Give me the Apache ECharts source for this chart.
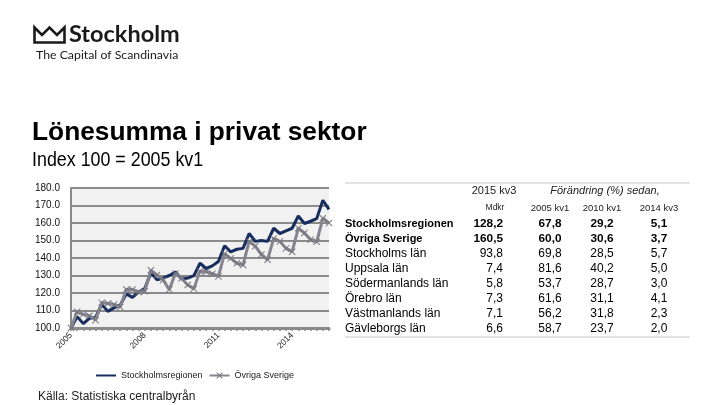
<!DOCTYPE html>
<html>
<head>
<meta charset="utf-8">
<script src="https://cdn.jsdelivr.net/npm/echarts@6/dist/echarts.min.js"></script>
<style>
  html, body { margin: 0; padding: 0; background: #fff; }
  #chart { width: 720px; height: 405px; }
</style>
</head>
<body>
<div id="chart"></div>
<script>
// kvartal 2005 kv1 .. 2015 kv3
const quarters = [];
for (let y = 2005; y <= 2015; y++) {
  for (let q = 1; q <= 4; q++) {
    if (y === 2015 && q > 3) break;
    quarters.push(y + ' kv' + q);
  }
}
const yearLabels = ['2005', '2008', '2011', '2014'];

const stockholmsregionen = [100, 106.5, 102.5, 105.5, 106, 113.5, 109.5, 111.5, 113, 119.5, 117.5, 120.5,
  122.5, 131.5, 127.5, 128.5, 130, 132, 128, 128.5, 129.9, 137, 134, 135.5, 138, 147, 143.5, 145,
  145.5, 154, 149.5, 150, 149.5, 157, 154, 155.5, 157, 164, 159.7, 161, 162.5, 173, 167.8];
const ovrigaSverige = [100, 109.3, 107.8, 107, 104.5, 114.5, 114, 113.5, 112, 122, 122, 120.5,
  121, 133, 130.3, 127.5, 122, 131.2, 128.4, 124.6, 122.5, 132.5, 132.2, 131, 129.5, 142.5, 139.8, 137,
  136, 149.5, 146.7, 142, 139, 151.2, 149.5, 145.5, 143.6, 157, 154.3, 150.5, 149.3, 162.7, 160.0];

// tabell
const tableNames = ['Stockholmsregionen', 'Övriga Sverige', 'Stockholms län', 'Uppsala län',
  'Södermanlands län', 'Örebro län', 'Västmanlands län', 'Gävleborgs län'];
const mdkr2015kv3 = ['128,2', '160,5', '93,8', '7,4', '5,8', '7,3', '7,1', '6,6'];
const chg2005kv1 = ['67,8', '60,0', '69,8', '81,6', '53,7', '61,6', '56,2', '58,7'];
const chg2010kv1 = ['29,2', '30,6', '28,5', '40,2', '28,7', '31,1', '31,8', '23,7'];
const chg2014kv3 = ['5,1', '3,7', '5,7', '5,0', '3,0', '4,1', '2,3', '2,0'];
const colHeads = ['2005 kv1', '2010 kv1', '2014 kv3'];

const NAVY = '#172d5e';
const GREY = '#85848f';
const FONT = "'Liberation Sans', Arial, sans-serif";
const crossPath = 'path://M0,1 L1,0 L5,4 L9,0 L10,1 L6,5 L10,9 L9,10 L5,6 L1,10 L0,9 L4,5 Z';

const graphics = [
  { // kronan
    type: 'polygon',
    shape: { points: [[34.5, 27.5], [42, 35], [49.5, 27.5], [57, 35], [64.5, 27.5], [64.5, 42.5], [34.5, 42.5]] },
    style: { fill: 'none', stroke: '#1a1a1a', lineWidth: 2.6, lineJoin: 'miter' }
  },
  { type: 'text', style: { x: 69, y: 34, text: 'Stockholm', font: "bold 23.5px Lato, sans-serif", fill: '#1a1a1a', verticalAlign: 'middle' } },
  { type: 'text', style: { x: 36, y: 55, text: 'The Capital of Scandinavia', font: "12.3px Lato, sans-serif", fill: '#1a1a1a', verticalAlign: 'middle' } },
  { type: 'text', style: { x: 32, y: 133, text: 'Lönesumma i privat sektor', font: 'bold 26.3px ' + FONT, fill: '#000', verticalAlign: 'middle' } },
  { type: 'text', x: 32, y: 160, scaleX: 0.85, style: { x: 0, y: 0, text: 'Index 100 = 2005 kv1', font: '21px ' + FONT, fill: '#000', verticalAlign: 'middle' } },
  { type: 'text', style: { x: 38, y: 397, text: 'Källa: Statistiska centralbyrån', font: '12px ' + FONT, fill: '#222', verticalAlign: 'middle' } },
  { type: 'line', shape: { x1: 345, y1: 183, x2: 690, y2: 183 }, style: { stroke: '#e3e3e3', lineWidth: 2 } },
  { type: 'line', shape: { x1: 345, y1: 337, x2: 690, y2: 337 }, style: { stroke: '#e3e3e3', lineWidth: 2 } },
  { type: 'text', style: { x: 494, y: 191, text: '2015 kv3', font: '11px ' + FONT, fill: '#222', align: 'center', verticalAlign: 'middle' } },
  { type: 'text', style: { x: 605, y: 191, text: 'Förändring (%) sedan,', font: 'italic 11px ' + FONT, fill: '#222', align: 'center', verticalAlign: 'middle' } },
  { type: 'text', style: { x: 495, y: 208, text: 'Mdkr', font: '8.5px ' + FONT, fill: '#222', align: 'center', verticalAlign: 'middle' } }
];
const colX = [550, 602, 659];
colHeads.forEach(function (h, c) {
  graphics.push({ type: 'text', style: { x: colX[c], y: 208, text: h, font: '9.5px ' + FONT, fill: '#222', align: 'center', verticalAlign: 'middle' } });
});
tableNames.forEach(function (name, i) {
  const y = 223.5 + i * 15;
  const bold = i < 2;
  const f = (bold ? 'bold 11.8px ' : '12px ') + FONT;
  graphics.push({ type: 'text', x: 345, y: y, scaleX: bold ? 0.93 : 1,
    style: { x: 0, y: 0, text: name, font: f, fill: '#000', verticalAlign: 'middle' } });
  [mdkr2015kv3[i], chg2005kv1[i], chg2010kv1[i], chg2014kv3[i]].forEach(function (v, c) {
    graphics.push({ type: 'text', style: {
      x: c === 0 ? 503 : colX[c - 1], y: y, text: v, font: f, fill: '#000',
      align: c === 0 ? 'right' : 'center', verticalAlign: 'middle' } });
  });
});

const chart = echarts.init(document.getElementById('chart'), null, { renderer: 'canvas' });
chart.setOption({
  animation: false,
  backgroundColor: '#fff',
  textStyle: { fontFamily: FONT },
  grid: { left: 71, right: 391, top: 188, bottom: 77, show: true, backgroundColor: '#f1f1f1', borderWidth: 0 },
  legend: {
    left: 95, top: 371, padding: 0, itemWidth: 20, itemHeight: 8, itemGap: 6,
    textStyle: { fontSize: 9, color: '#1a1a1a', fontFamily: FONT },
    data: [
      { name: 'Stockholmsregionen', itemStyle: { color: 'rgba(0,0,0,0)', borderWidth: 0 } },
      { name: 'Övriga Sverige' }
    ]
  },
  xAxis: {
    type: 'category',
    data: quarters,
    boundaryGap: false,
    axisLine: { lineStyle: { color: '#8a8a8a', width: 3 } },
    axisTick: { show: true, interval: 0, length: 3, inside: false, lineStyle: { color: '#8a8a8a', width: 1.5 } },
    axisLabel: {
      interval: function (idx) { return idx % 12 === 0; },
      formatter: function (v) { const y = v.slice(0, 4); return yearLabels.indexOf(y) >= 0 ? y : ''; },
      rotate: 45, fontSize: 8.5, color: '#222', margin: 6
    },
    splitLine: { show: false }
  },
  yAxis: {
    type: 'value',
    min: 100, max: 180, interval: 10,
    axisLine: { show: true, lineStyle: { color: '#8a8a8a', width: 2 } },
    axisTick: { show: false },
    axisLabel: { formatter: function (v) { return v.toFixed(1); }, fontSize: 10, color: '#111', margin: 11 },
    splitLine: { lineStyle: { color: '#8a8a8a', width: 2 } }
  },
  series: [
    {
      name: 'Stockholmsregionen', type: 'line', data: stockholmsregionen,
      symbol: 'none', lineStyle: { color: NAVY, width: 3 }, itemStyle: { color: NAVY }
    },
    {
      name: 'Övriga Sverige', type: 'line', data: ovrigaSverige,
      symbol: crossPath, symbolSize: 7, showAllSymbol: true,
      lineStyle: { color: GREY, width: 3 }, itemStyle: { color: '#77767f' }
    }
  ],
  graphic: graphics
});
</script>
</body>
</html>
